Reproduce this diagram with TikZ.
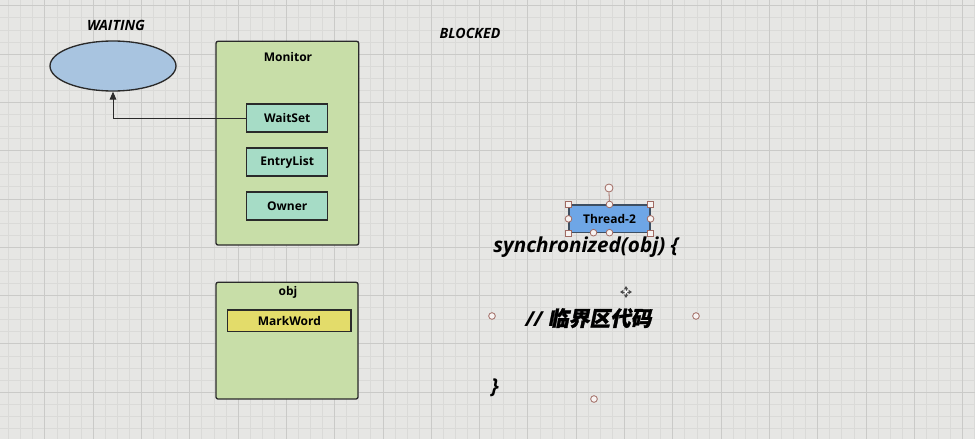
\documentclass[tikz,border=0pt]{standalone}
\usepackage{fontspec}
\setmainfont{Open Sans}
\newfontfamily\cjk[FakeSlant=0.2,FakeBold=1.5]{Noto Sans CJK SC}
\usetikzlibrary{shapes.geometric,arrows.meta}
\definecolor{bg}{HTML}{E6E6E4}
\definecolor{gminor}{HTML}{DADAD8}
\definecolor{gmajor}{HTML}{CACAC8}
\definecolor{ellfill}{HTML}{A8C4E0}
\definecolor{grn}{HTML}{C8DEA8}
\definecolor{teal}{HTML}{A6DCC6}
\definecolor{yel}{HTML}{E3DC6A}
\definecolor{thr}{HTML}{6EA6E6}
\definecolor{edge}{HTML}{2A2A2A}
\definecolor{hdl}{HTML}{A06A62}
\tikzset{
  box/.style={draw=edge,line width=1pt,rounded corners=1.5pt,inner sep=0pt},
  field/.style={draw=edge,line width=0.8pt,fill=teal,inner sep=0pt,minimum width=60.75pt,minimum height=21pt,font=\fontsize{9}{12}\selectfont\bfseries},
  lbl/.style={font=\fontsize{9}{12}\selectfont\bfseries,inner sep=0pt},
  state/.style={font=\fontsize{10.6}{12}\selectfont\bfseries\itshape,inner sep=0pt},
  code/.style={font=\fontsize{15.5}{18}\selectfont\bfseries\itshape,inner sep=0pt,anchor=base west},
  sqh/.style={draw=hdl,fill=white!92!hdl,line width=0.6pt,minimum size=4pt,inner sep=0pt},
  cih/.style={draw=hdl,fill=white!92!hdl,line width=0.6pt,circle,minimum size=5pt,inner sep=0pt},
}
\begin{document}
\begin{tikzpicture}[x=0.75pt,y=-0.75pt]
\useasboundingbox (0,0) rectangle (975,439);
\fill[bg] (0,0) rectangle (975,439);
% grid
\foreach \i in {0,...,80} \draw[gminor,line width=0.5pt] ({8.575+12.075*\i},0) -- ({8.575+12.075*\i},439);
\foreach \i in {0,...,36} \draw[gminor,line width=0.5pt] (0,{5.7+12.075*\i}) -- (975,{5.7+12.075*\i});
\foreach \i in {0,...,20} \draw[gmajor,line width=0.6pt] ({44.8+48.3*\i},0) -- ({44.8+48.3*\i},439);
\foreach \i in {0,...,9} \draw[gmajor,line width=0.6pt] (0,{5.7+48.3*\i}) -- (975,{5.7+48.3*\i});

% WAITING
\node[state] (waiting) at (116,25) {WAITING};
\node[ellipse,draw=edge,line width=1pt,fill=ellfill,minimum width=94.5pt,minimum height=37.5pt,inner sep=0pt] (ell) at (113,66) {};

% Monitor
\node[box,fill=grn,minimum width=107pt,minimum height=152.8pt] (monitor) at (287.35,143.15) {};
\node[lbl] (monlbl) at (288,57) {Monitor};
\node[field] (ws) at (287.2,118) {WaitSet};
\node[field] (el) at (287.2,162) {EntryList};
\node[field] (ow) at (287.2,206) {Owner};
\draw[edge,line width=0.7pt,-{Triangle[length=6pt,width=5pt]}] (ws.west) -| (ell.south);

% obj
\node[box,fill=grn,minimum width=106.5pt,minimum height=87.5pt] (obj) at (287,340.65) {};
\node[lbl] (objlbl) at (288,292) {obj};
\node[field,fill=yel,minimum width=92.5pt,minimum height=16.3pt] (mw) at (289.35,320.85) {MarkWord};

% BLOCKED
\node[state] (blocked) at (470,33) {BLOCKED};

% Thread-2 with selection handles
\node[draw=edge!70!thr,line width=0.8pt,fill=thr,minimum width=60.75pt,minimum height=20.8pt,inner sep=0pt,font=\fontsize{9}{12}\selectfont\bfseries] (t2) at (609.5,218.85) {Thread-2};
\node[cih,minimum size=6pt] (rot) at (609,188) {};
\draw[hdl,line width=0.6pt] (rot.south) -- (t2.north);
\foreach \a in {north west,north east,south west,south east} \node[sqh] at (t2.\a) {};
\foreach \a in {west,east,north} \node[cih] at (t2.\a) {};
\node[cih] (b1) at (593.5,232.7) {};
\node[cih] (b2) at (609.5,232.7) {};

% code
\node[code] (sync) at (493,252) {synchronized(obj) \{};
\node[code,anchor=base west] (cmt) at (525,326) {// {\cjk 临界区代码}};
\node[code] (close) at (491,393) {\}};
\node[cih] (h1) at (492,316) {};
\node[cih] (h2) at (696,316) {};
\node[cih] (h3) at (594,399) {};

% move cursor
\begin{scope}[shift={(626,292)},line width=0.7pt,draw=black!70]
\foreach \ang in {0,90,180,270}
  \draw[black!70,-{Triangle[length=2.5pt,width=3pt]}] (0,0) -- ({6*cos(\ang)},{6*sin(\ang)});
\fill[white] (0,0) circle (1.2pt);
\end{scope}
\end{tikzpicture}
\end{document}
